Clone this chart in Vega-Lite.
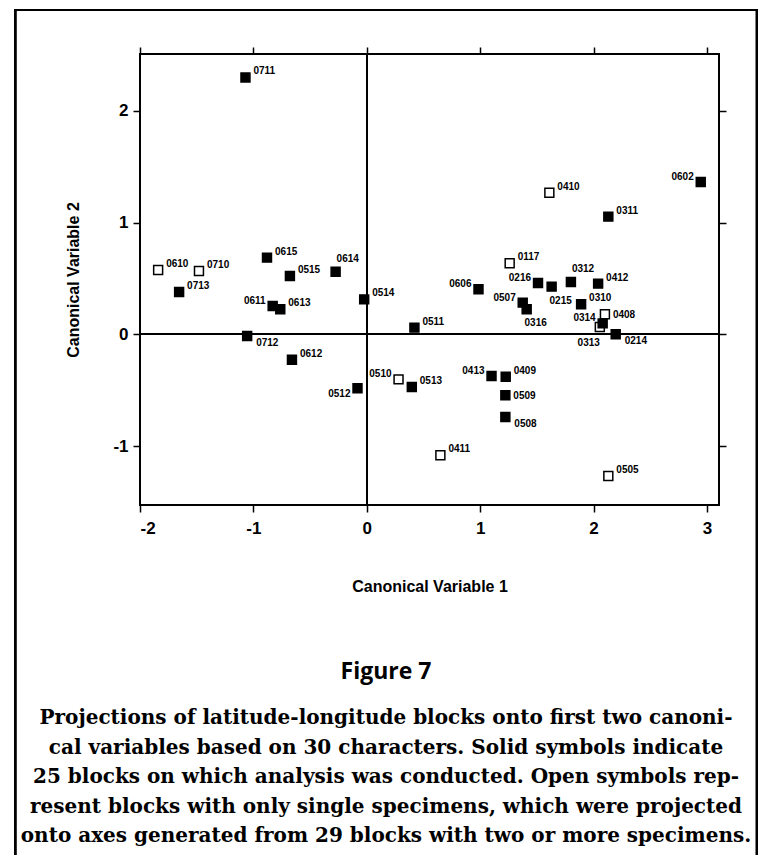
{
  "$schema": "https://vega.github.io/schema/vega-lite/v6.json",
  "autosize": "none",
  "width": 579,
  "height": 451,
  "padding": {"left": 140, "top": 54, "right": 44, "bottom": 350},
  "background": "white",
  "config": {
    "font": "Liberation Sans",
    "view": {"stroke": "black", "strokeWidth": 2},
    "axis": {"domain": false, "grid": false, "tickColor": "black", "tickWidth": 1.5, "tickSize": 7, "labelColor": "black", "titleColor": "black", "labelFont": "Liberation Sans", "titleFont": "Liberation Sans", "labelFontWeight": "bold", "titleFontWeight": "bold", "labelFontSize": 17, "titleFontSize": 16}
  },
  "title": {
    "text": "Figure 7",
    "subtitle": [
      "Projections of latitude-longitude blocks onto first two canoni-",
      "cal variables based on 30 characters. Solid symbols indicate",
      "25 blocks on which analysis was conducted. Open symbols rep-",
      "resent blocks with only single specimens, which were projected",
      "onto axes generated from 29 blocks with two or more specimens."
    ],
    "orient": "bottom",
    "anchor": "middle",
    "frame": "bounds",
    "offset": -198,
    "font": "Open Sans",
    "fontSize": 23,
    "fontWeight": "bold",
    "color": "black",
    "subtitleFont": "DejaVu Serif",
    "subtitleFontSize": 20,
    "subtitleFontWeight": "bold",
    "subtitleColor": "black",
    "subtitleLineHeight": 29.5,
    "subtitlePadding": 24
  },
  "data": {
    "values": [
      {"block": "0711", "x": -1.07, "y": 2.30, "type": "solid"},
      {"block": "0610", "x": -1.84, "y": 0.576, "type": "open"},
      {"block": "0710", "x": -1.48, "y": 0.567, "type": "open"},
      {"block": "0713", "x": -1.655, "y": 0.379, "type": "solid"},
      {"block": "0615", "x": -0.88, "y": 0.687, "type": "solid"},
      {"block": "0515", "x": -0.678, "y": 0.522, "type": "solid"},
      {"block": "0614", "x": -0.275, "y": 0.561, "type": "solid"},
      {"block": "0514", "x": -0.023, "y": 0.313, "type": "solid"},
      {"block": "0611", "x": -0.83, "y": 0.254, "type": "solid"},
      {"block": "0613", "x": -0.763, "y": 0.224, "type": "solid"},
      {"block": "0511", "x": 0.42, "y": 0.06, "type": "solid"},
      {"block": "0712", "x": -1.055, "y": -0.015, "type": "solid"},
      {"block": "0612", "x": -0.66, "y": -0.227, "type": "solid"},
      {"block": "0512", "x": -0.082, "y": -0.483, "type": "solid"},
      {"block": "0510", "x": 0.28, "y": -0.403, "type": "open"},
      {"block": "0513", "x": 0.397, "y": -0.471, "type": "solid"},
      {"block": "0602", "x": 2.945, "y": 1.364, "type": "solid"},
      {"block": "0410", "x": 1.61, "y": 1.268, "type": "open"},
      {"block": "0311", "x": 2.13, "y": 1.054, "type": "solid"},
      {"block": "0117", "x": 1.26, "y": 0.636, "type": "open"},
      {"block": "0216", "x": 1.51, "y": 0.46, "type": "solid"},
      {"block": "0215", "x": 1.63, "y": 0.427, "type": "solid"},
      {"block": "0312", "x": 1.80, "y": 0.468, "type": "solid"},
      {"block": "0412", "x": 2.04, "y": 0.454, "type": "solid"},
      {"block": "0606", "x": 0.985, "y": 0.403, "type": "solid"},
      {"block": "0507", "x": 1.375, "y": 0.284, "type": "solid"},
      {"block": "0316", "x": 1.41, "y": 0.224, "type": "solid"},
      {"block": "0310", "x": 1.89, "y": 0.269, "type": "solid"},
      {"block": "0408", "x": 2.10, "y": 0.179, "type": "open"},
      {"block": "0313", "x": 2.055, "y": 0.066, "type": "open"},
      {"block": "0314", "x": 2.08, "y": 0.098, "type": "solid"},
      {"block": "0214", "x": 2.195, "y": 0.0, "type": "solid"},
      {"block": "0413", "x": 1.10, "y": -0.373, "type": "solid"},
      {"block": "0409", "x": 1.225, "y": -0.379, "type": "solid"},
      {"block": "0509", "x": 1.222, "y": -0.546, "type": "solid"},
      {"block": "0508", "x": 1.222, "y": -0.74, "type": "solid"},
      {"block": "0411", "x": 0.649, "y": -1.083, "type": "open"},
      {"block": "0505", "x": 2.13, "y": -1.268, "type": "open"}
    ]
  },
  "resolve": {"axis": {"x": "independent", "y": "independent"}},
  "layer": [
    {
      "mark": {"type": "rect", "filled": false, "stroke": "black", "strokeWidth": 2, "clip": false},
      "encoding": {
        "x": {"datum": -3.102, "type": "quantitative", "scale": {"domain": [-2, 3.106], "nice": false, "zero": false}, "axis": null},
        "x2": {"datum": 3.441},
        "y": {"datum": 2.904, "type": "quantitative", "scale": {"domain": [-1.528, 2.51], "nice": false, "zero": false}, "axis": null},
        "y2": {"datum": -4.69}
      }
    },
    {
      "mark": {"type": "rule", "color": "black", "strokeWidth": 1.5},
      "encoding": {
        "x": {"datum": 0, "type": "quantitative", "scale": {"domain": [-2, 3.106], "nice": false, "zero": false},
          "axis": {"orient": "top", "values": [-2, -1, 0, 1, 2, 3], "labels": false, "title": null}}
      }
    },
    {
      "mark": {"type": "rule", "color": "black", "strokeWidth": 1.5},
      "encoding": {
        "y": {"datum": 0, "type": "quantitative", "scale": {"domain": [-1.528, 2.51], "nice": false, "zero": false},
          "axis": {"orient": "right", "values": [-1, 0, 1, 2], "labels": false, "title": null}}
      }
    },
    {
      "mark": {"type": "point", "shape": "square", "filled": true, "size": 80, "stroke": "black", "strokeWidth": 1.5, "opacity": 1},
      "encoding": {
        "x": {"field": "x", "type": "quantitative", "scale": {"domain": [-2, 3.106], "nice": false, "zero": false},
          "axis": {"orient": "bottom", "values": [-2, -1, 0, 1, 2, 3], "labelExpr": "'' + datum.value", "title": "Canonical Variable 1", "labelPadding": 8, "titlePadding": 42}},
        "y": {"field": "y", "type": "quantitative", "scale": {"domain": [-1.528, 2.51], "nice": false, "zero": false},
          "axis": {"orient": "left", "values": [-1, 0, 1, 2], "labelExpr": "'' + datum.value", "title": "Canonical Variable 2", "labelPadding": 5, "titlePadding": 31}},
        "fill": {"field": "type", "type": "nominal", "scale": {"domain": ["solid", "open"], "range": ["black", "white"]}, "legend": null}
      }
    },
    {
      "transform": [{"filter": {"field": "block", "oneOf": ["0711", "0610", "0710", "0713", "0615", "0515", "0514", "0613", "0511", "0612", "0513", "0410", "0311", "0117", "0412", "0310", "0409", "0411", "0505"]}}],
      "mark": {"type": "text", "align": "left", "baseline": "middle", "dx": 8, "dy": -6, "fontSize": 10, "fontWeight": "bold", "color": "black"},
      "encoding": {
        "x": {"field": "x", "type": "quantitative", "axis": null},
        "y": {"field": "y", "type": "quantitative", "axis": null},
        "text": {"field": "block"}
      }
    },
    {
      "transform": [{"filter": {"field": "block", "oneOf": ["0614", "0312"]}}],
      "mark": {"type": "text", "align": "left", "baseline": "middle", "dx": 1, "dy": -13, "fontSize": 10, "fontWeight": "bold", "color": "black"},
      "encoding": {
        "x": {"field": "x", "type": "quantitative", "axis": null},
        "y": {"field": "y", "type": "quantitative", "axis": null},
        "text": {"field": "block"}
      }
    },
    {
      "transform": [{"filter": {"field": "block", "oneOf": ["0408", "0509"]}}],
      "mark": {"type": "text", "align": "left", "baseline": "middle", "dx": 8, "dy": 1, "fontSize": 10, "fontWeight": "bold", "color": "black"},
      "encoding": {
        "x": {"field": "x", "type": "quantitative", "axis": null},
        "y": {"field": "y", "type": "quantitative", "axis": null},
        "text": {"field": "block"}
      }
    },
    {
      "transform": [{"filter": {"field": "block", "oneOf": ["0611", "0606", "0507", "0216", "0510", "0413", "0602", "0314"]}}],
      "mark": {"type": "text", "align": "right", "baseline": "middle", "dx": -7, "dy": -5, "fontSize": 10, "fontWeight": "bold", "color": "black"},
      "encoding": {
        "x": {"field": "x", "type": "quantitative", "axis": null},
        "y": {"field": "y", "type": "quantitative", "axis": null},
        "text": {"field": "block"}
      }
    },
    {
      "transform": [{"filter": {"field": "block", "oneOf": ["0712", "0214", "0508"]}}],
      "mark": {"type": "text", "align": "left", "baseline": "middle", "dx": 9, "dy": 7, "fontSize": 10, "fontWeight": "bold", "color": "black"},
      "encoding": {
        "x": {"field": "x", "type": "quantitative", "axis": null},
        "y": {"field": "y", "type": "quantitative", "axis": null},
        "text": {"field": "block"}
      }
    },
    {
      "transform": [{"filter": {"field": "block", "oneOf": ["0215", "0316"]}}],
      "mark": {"type": "text", "align": "center", "baseline": "middle", "dx": 9, "dy": 14, "fontSize": 10, "fontWeight": "bold", "color": "black"},
      "encoding": {
        "x": {"field": "x", "type": "quantitative", "axis": null},
        "y": {"field": "y", "type": "quantitative", "axis": null},
        "text": {"field": "block"}
      }
    },
    {
      "transform": [{"filter": {"field": "block", "oneOf": ["0512"]}}],
      "mark": {"type": "text", "align": "right", "baseline": "middle", "dx": -7, "dy": 6, "fontSize": 10, "fontWeight": "bold", "color": "black"},
      "encoding": {
        "x": {"field": "x", "type": "quantitative", "axis": null},
        "y": {"field": "y", "type": "quantitative", "axis": null},
        "text": {"field": "block"}
      }
    },
    {
      "transform": [{"filter": {"field": "block", "oneOf": ["0313"]}}],
      "mark": {"type": "text", "align": "right", "baseline": "middle", "dx": 0, "dy": 16, "fontSize": 10, "fontWeight": "bold", "color": "black"},
      "encoding": {
        "x": {"field": "x", "type": "quantitative", "axis": null},
        "y": {"field": "y", "type": "quantitative", "axis": null},
        "text": {"field": "block"}
      }
    }
  ]
}
